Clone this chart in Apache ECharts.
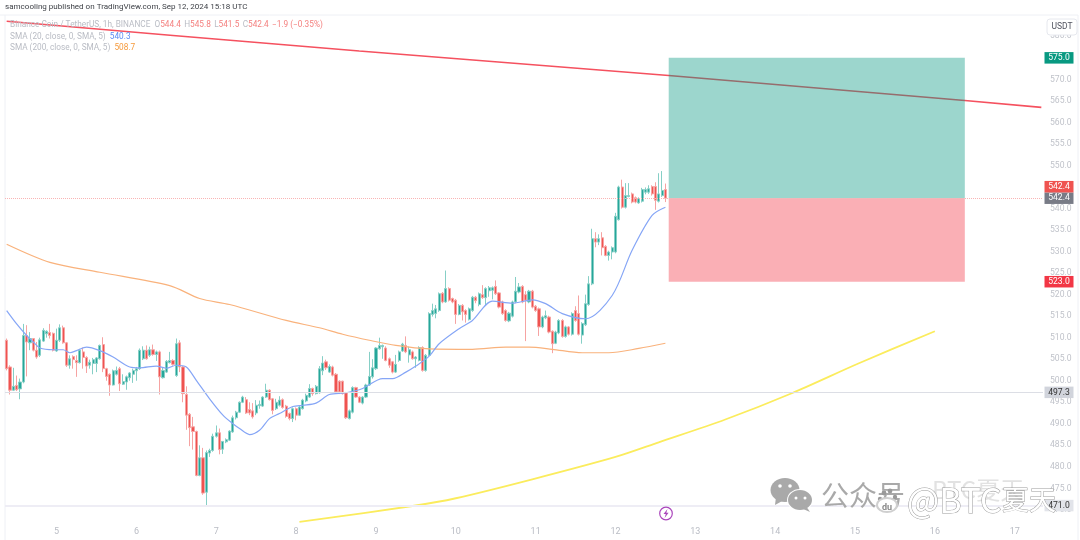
<!DOCTYPE html>
<html>
<head>
<meta charset="utf-8">
<title>BNBUSDT 1h</title>
<style>
  html, body { margin: 0; padding: 0; background: #fff; }
  #main { width: 1080px; height: 540px; }
</style>
<script src="https://cdn.jsdelivr.net/npm/echarts@6/dist/echarts.min.js"></script>
</head>
<body>
<div id="main"></div>
<script>
// hourly candles
var opens = [
  509.4,503.2,497.8,498.9,498.1,499.7,510.5,508.8,509.8,507.1,
  505.9,509.2,510.9,511.2,511,506.9,509.4,512.3,508.8,503.6,
  505.6,504.7,504.2,506.7,505.4,503.6,504,504,505.1,508.4,
  502.8,501.5,499,501.5,502.8,499.2,499.7,500.7,501.5,502.3,
  502.8,505.1,507.1,505.9,507.2,506.1,506.7,500.7,502,504.2,
  504.7,501.2,508.8,503.2,496.8,492.2,489.3,488.2,478,482.1,
  474.1,483.2,483.8,487.1,487.9,484.1,485.8,486.2,488.1,491.4,
  492.7,495,495.6,493.3,493,492.5,494.2,494.1,496.2,497.8,
  495.8,493.5,494.3,495.6,494.1,492.4,491.2,493.5,492,493.5,
  495.3,496.2,498.2,497,497.2,502.3,504.4,502,503.2,501.5,
  499.9,499.9,497.2,491.2,492.7,498.4,496.2,494.8,496.2,499,
  500.9,502.8,507.4,507.9,507.6,505.1,504.4,502,504.7,506.9,
  508.2,506,506.7,505.1,504.7,507.7,502.4,505.9,515.4,515.6,
  516.3,520.3,518.3,521.4,519.1,518.7,515.4,517.5,516.3,514.2,
  516.3,519.4,517.7,520,519.3,520.9,521,521.9,520.4,518.3,
  516.3,513.9,515,518.3,520.6,521.9,520,518.3,520.8,517.3,
  516.7,512.5,514.6,514.8,511.5,508.7,511.1,514,510.3,512.5,
  510.8,516.3,515.6,510.6,513,517.7,522.5,533,532.2,533.2,
  531.2,529.1,529.9,529.9,537.4,545,540.3,542.8,543.4,542.5,
  541.3,541.7,543.8,543.8,545.1,545.1,541.7,543,544.4
]
var closes = [
  502.8,497.8,498.7,497.9,499.7,510.5,509,509.8,507.1,505.5,
  509.5,511.7,511.5,510.5,507.1,509.4,512.3,508.8,503.6,505.1,
  504.9,504.2,507.1,505.4,503.4,504.3,504.9,505.3,508.2,502.8,
  501,499,502.3,502.4,499.3,499.8,500.9,501.8,502.4,502.8,
  507.1,507.1,505.1,507.2,506.1,506.7,500.9,502.4,504.5,504.7,
  503.8,508.6,503.2,497,492,489.1,488.2,478,482.1,473.9,
  483.3,483.8,487.1,487.9,484,485.9,486.3,488.3,491.4,492.7,
  495,496.2,492.5,492.5,491.6,494.3,494.5,496.2,497.8,495.6,
  493.1,495,495.5,493.8,491.7,491.2,493.5,492,493.9,495.5,
  496.6,498.2,497,498.7,502.8,504.1,503,503.3,501.3,497.4,
  497.4,497,491.4,493,498.4,496.2,495,496.2,499,501,
  503,507.6,508.2,508.2,504.7,503.6,502,503.8,506.7,508.5,
  506.7,507.2,505.1,505.5,507.7,502.4,505.9,515.6,516.3,516.7,
  520.2,518.3,521.4,518.7,518.3,515.4,517.5,516,515.4,516.7,
  519.4,518.6,520.2,519.3,521.4,521.6,521.6,520.2,517.1,515.6,
  514,515.7,518.3,520.8,521.8,518.3,518.7,520.8,517.1,516.3,
  512.5,514.8,515.1,511.3,508.6,511.3,514,510.3,512.5,510.8,
  515.6,514,510.8,513.3,517.9,522.5,533,532.2,533,530.9,
  529.1,529.9,530.9,538.2,545,540.3,543,543,541.5,541.5,
  542.3,544.4,544.4,544.6,543.4,541.9,543.4,544.2,542.4
]
var highs = [
  509.8,503.6,503,501.2,500.5,513.2,512.9,511.3,509.9,509,
  510,512.2,511.7,513.2,511.2,512.1,513.1,512.8,509,505.9,
  505.9,505.9,507.4,507.7,505.7,504.9,505.3,505.5,508.4,510.1,
  503,501.7,502.6,503.3,503.2,501.5,501.2,502,502.8,503.2,
  507.5,508,508.2,507.9,508.4,507,507,503,504.8,506.7,
  505,509.8,509.4,503.4,498.7,492.5,491.6,488.4,485,484.4,
  483.8,484.2,487.7,489.6,488.9,486,486.6,488.5,491.9,493,
  495.2,496.5,496.2,495,494.8,495.5,495.4,496.4,499.3,498,
  496,495.8,496.4,495.9,494.4,492.6,493.8,493.8,494.2,495.8,
  497,499.2,498.4,499,503.4,505.7,504.9,503.8,503.5,501.8,
  500.1,500,497.4,493.3,498.7,498.6,496.4,496.4,499.3,506.7,
  505,507.8,510,508.4,508,505.4,504.6,506,507,508.8,
  510.3,507.9,507,505.7,508,508,506.2,515.9,517.9,517.6,
  520.5,520.6,525.6,521.7,519.3,519,517.8,517.8,516.6,517,
  519.7,519.7,520.5,522.2,521.7,522,521.9,523.3,520.6,518.6,
  516.6,516,518.6,524.1,522.7,522.2,520.8,521.1,521.1,517.6,
  517,515.1,516.3,515.1,511.7,511.6,514.3,514.3,512.8,512.7,
  515.9,517.3,519.8,513.6,520,524.3,535.3,534.5,534,534.5,
  531.5,530.2,531.2,539,545.3,546.7,545.9,545.9,543.7,542.8,
  542.6,544.8,544.9,545.4,545.4,546.1,548.2,548.7,545.8
]
var lows = [
  502.4,496.8,497.6,497.6,495.7,499.4,501,507.1,506.8,505.1,
  505.5,509,510,509.8,506.8,506.7,509,508.6,503.2,502.8,
  502.8,500.9,504,502.8,501.8,502.8,501.5,502,504.9,502,
  500,496.5,498.9,501.2,497.6,499,497.9,500,499.5,500,
  502.5,504.8,504.9,505.5,505.8,504.6,496.8,500.5,501.8,504,
  503.5,500.9,502,495,488.6,484.8,484,477.8,477.8,473.5,
  471.1,482.3,483.5,486.8,482.9,483,485.5,486,487.9,491,
  492.5,494.8,492.3,492,491.2,492,493.5,493.9,496,495.4,
  492.2,493.2,494,493.5,491.4,490.8,490.4,490.8,491.8,493.3,
  495,496,496.5,496.8,497,501.3,502.5,501.8,501,497.2,
  496.9,496.8,491.1,491,492.4,496,494.8,494.5,496,498.8,
  500.5,502.5,507.2,505.1,504.5,503,501.7,501.8,504.4,506.7,
  506.4,504.2,504.9,503,504.5,502.1,502.1,505.7,514.9,514.5,
  516,518,518.1,518.4,518,513.2,515.2,514,513.5,514,
  516,518,517.3,519,517.5,519.5,518.9,519.9,516.8,515.3,
  513.7,513.6,514.7,518,520.3,518,509.2,518,516.8,516,
  510.4,512.2,514.3,511,506.4,508.5,510.8,510,510,510.5,
  510.5,513.7,510.5,508.6,512.7,517.4,522.2,531,531.5,529.1,
  528.9,527.9,528.2,529.6,537.2,540,540,542.6,541.2,541.2,
  541.1,541.4,543.3,543.4,543,539.7,541.4,542.7,541.5
]

// moving averages and trend lines: [candle slot, price]
var sma20 = [
  [0,516.3],[3,513.2],[6,510.5],[8,509],[10,507.6],[14,507.2],[17,507.2],[19,506.5],
  [21,507],[24,507.8],[28,507],[32,505.5],[37,503.2],[40,503],[45,503.4],[48,502.9],
  [51,503.6],[54,503.2],[57,500.1],[61,495.8],[65,492],[68,490],[70,488.9],[73,487.5],
  [76,488.5],[79,491.2],[82,492.4],[86,494],[89,494.3],[93,494.8],[97,496.8],[102,497.2],
  [107,498.2],[113,500.5],[116,500.5],[120,502],[123,503.4],[127,505.7],[130,508.6],
  [136,512.1],[140,514],[146,518.5],[152,518],[158,518.8],[162,517.9],[167,515.6],
  [174,514.4],[182,519.8],[188,530.3],[194,538.4],[198,540.3]
]
var sma200 = [
  [0,531.7],[13,527.5],[28,525.2],[49,522.1],[58,519.1],[67,517.7],[84,514],[94,512.3],
  [101,510.8],[109,509.4],[117,508.2],[127,507.4],[140,507.3],[150,507.8],[157,507.8],
  [164,507.3],[173,506.5],[181,506.5],[190,507.5],[198,508.7]
]
var redTrend = [[0,583.5],[50,580.2],[106,576.6],[199,570.9],[288,565.1],[311,563.5]]
var yellowTrend = [
  [88,467.2],[122,470.9],[135,472.7],[158,477.1],[183,482.3],[196,485.7],
  [216,491],[236,497.1],[256,504],[279,511.5]
]

// long position tool and price tags
var targetPrice = 575.0
var lastPrice = 542.4
var stopPrice = 523.0
var alertPrice = 497.3
var lowPrice = 471.0
var boxStart = 199
var boxEnd = 288

var slotCount = 312
var firstDaySlot = 15
var dayTicks = [5, 6, 7, 8, 9, 10, 11, 12, 13, 14, 15, 16, 17]

var categories = []
for (var i = 0; i < slotCount; i++) {
  var d = dayTicks.indexOf(5 + (i - firstDaySlot) / 24)
  categories.push(d >= 0 ? String(dayTicks[d]) : '')
}

var candles = opens.map(function (o, i) {
  return [o, closes[i], lows[i], highs[i]]
})

var FONT = 'Roboto, sans-serif'
var CJK = '"Noto Sans CJK SC", sans-serif'

function tag(value, bg, color, dy) {
  return {
    yAxis: value,
    label: {
      show: true,
      position: 'end',
      distance: 1,
      formatter: value.toFixed(1),
      backgroundColor: bg,
      color: color,
      fontFamily: FONT,
      fontSize: 8.6,
      width: 29,
      height: 11.5,
      lineHeight: 11.5,
      align: 'center',
      offset: [15, dy || 0]
    }
  }
}

function line(item, style) {
  item.lineStyle = style
  return item
}

var hidden = { color: 'rgba(0,0,0,0)', width: 0 }

var legendStyle = {
  g: { fill: '#b9bcc4', fontFamily: FONT, fontSize: 8.25 },
  r: { fill: '#f4807f', fontFamily: FONT, fontSize: 8.25 },
  b: { fill: '#5b8cf5', fontFamily: FONT, fontSize: 8.25 },
  o: { fill: '#f59a3c', fontFamily: FONT, fontSize: 8.25 }
}

function text(x, y, str, size, color, family, extra) {
  var style = { x: x, y: y, text: str, fontSize: size, fill: color, fontFamily: family, textVerticalAlign: 'middle' }
  for (var k in extra) style[k] = extra[k]
  return { type: 'text', z: 50, silent: true, style: style }
}

function circle(cx, cy, r, fill, stroke) {
  return {
    type: 'circle', z: 50, silent: true,
    shape: { cx: cx, cy: cy, r: r },
    style: { fill: fill, stroke: stroke || null, lineWidth: stroke ? 1.2 : 0 }
  }
}

function ellipse(cx, cy, rx, ry, fill, stroke) {
  return {
    type: 'ellipse', z: 50, silent: true,
    shape: { cx: cx, cy: cy, rx: rx, ry: ry },
    style: { fill: fill, stroke: stroke || null, lineWidth: stroke ? 2 : 0 }
  }
}

function poly(points, fill) {
  return { type: 'polygon', z: 50, silent: true, shape: { points: points }, style: { fill: fill } }
}

function rule(x1, y1, x2, y2) {
  return {
    type: 'line', z: 0, silent: true,
    shape: { x1: x1, y1: y1, x2: x2, y2: y2 },
    style: { stroke: '#eef0f5', lineWidth: 1 }
  }
}

var GREY = '#a9a9a9'
var HOLLOW = { stroke: '#9c9c9c', lineWidth: 1 }

var chart = echarts.init(document.getElementById('main'), null, { renderer: 'canvas' })

var option = {
  animation: false,
  backgroundColor: '#fff',
  grid: { left: 5, right: 37, top: 14.8, height: 516.6, containLabel: false },
  xAxis: {
    type: 'category',
    data: categories,
    boundaryGap: true,
    axisLine: { show: false },
    axisTick: { show: false },
    splitLine: { show: false },
    axisLabel: {
      interval: 0,
      margin: 0,
      verticalAlign: 'middle',
      color: '#b9bcc4',
      fontFamily: FONT,
      fontSize: 9
    }
  },
  yAxis: {
    type: 'value',
    position: 'right',
    min: 465,
    max: 585,
    interval: 5,
    axisLine: { show: false },
    axisTick: { show: false },
    splitLine: { show: false },
    axisLabel: {
      margin: 7,
      color: '#c0c3ca',
      fontFamily: FONT,
      fontSize: 8.6,
      formatter: function (v) {
        return v === 465 || v === 585 ? '' : v.toFixed(1)
      }
    }
  },
  series: [
    {
      type: 'candlestick',
      data: candles,
      barWidth: 2.6,
      z: 3,
      itemStyle: {
        color: '#26a69a',
        color0: '#ef5350',
        borderColor: '#86cfc6',
        borderColor0: '#f6a3a2',
        borderWidth: 1
      },
      markArea: {
        silent: true,
        z: 6,
        data: [
          [
            { coord: [boxStart, targetPrice], itemStyle: { color: 'rgba(8,153,129,0.4)' } },
            { coord: [boxEnd, lastPrice] }
          ],
          [
            { coord: [boxStart, lastPrice], itemStyle: { color: 'rgba(242,54,69,0.4)' } },
            { coord: [boxEnd, stopPrice] }
          ]
        ]
      },
      markLine: {
        silent: true,
        symbol: 'none',
        z: 7,
        data: [
          line(tag(targetPrice, '#089981', '#fff'), hidden),
          line(tag(stopPrice, '#f23645', '#fff'), hidden),
          line(tag(lastPrice, '#787b86', '#fff'), { color: '#f9b4b4', type: 'dotted', width: 1 }),
          line(tag(lastPrice, '#ef5350', '#fff', -11.5), hidden),
          line(tag(alertPrice, '#d1d4dc', '#333'), { color: '#dcdee5', type: 'solid', width: 1 }),
          line(tag(lowPrice, '#e2e4ea', '#333'), { color: '#eeedf5', type: 'solid', width: 2 })
        ]
      }
    },
    {
      type: 'line', data: redTrend, showSymbol: false, z: 2,
      lineStyle: { color: '#f5515f', width: 1.6 }
    },
    {
      type: 'line', data: yellowTrend, showSymbol: false, z: 2, smooth: 0.3,
      lineStyle: { color: '#fbec5d', width: 1.8 }
    },
    {
      type: 'line', data: sma200, showSymbol: false, z: 4, smooth: 0.3,
      lineStyle: { color: '#f9b27c', width: 1.2 }
    },
    {
      type: 'line', data: sma20, showSymbol: false, z: 5, smooth: 0.3,
      lineStyle: { color: '#86a6f6', width: 1.2 }
    }
  ],
  graphic: [
    // pane borders
    rule(0, 15, 1078, 15),
    rule(5, 15, 5, 540),
    rule(1078, 15, 1078, 540),

    // header and legend
    text(5, 7, 'samcooling published on TradingView.com, Sep 12, 2024 15:18 UTC', 8.05, '#3f4248', FONT),
    {
      type: 'text', z: 50, silent: true,
      style: {
        x: 10, y: 25, textVerticalAlign: 'middle',
        text: '{g|Binance Coin / TetherUS, 1h, BINANCE  O}{r|544.4} {g|H}{r|545.8} {g|L}{r|541.5} {g|C}{r|542.4} {r|\u22121.9 (\u22120.35%)}',
        rich: legendStyle
      }
    },
    {
      type: 'text', z: 50, silent: true,
      style: {
        x: 10, y: 36.6, textVerticalAlign: 'middle',
        text: '{g|SMA (20, close, 0, SMA, 5)  }{b|540.3}',
        rich: legendStyle
      }
    },
    {
      type: 'text', z: 50, silent: true,
      style: {
        x: 10, y: 48, textVerticalAlign: 'middle',
        text: '{g|SMA (200, close, 0, SMA, 5)  }{o|508.7}',
        rich: legendStyle
      }
    },

    // currency button
    {
      type: 'rect', z: 50, silent: true,
      shape: { x: 1047, y: 19, width: 30, height: 16, r: 3 },
      style: { fill: '#fff', stroke: '#e6e8ee', lineWidth: 1 }
    },
    text(1062, 27.3, 'USDT', 8.5, '#50535e', FONT, { textAlign: 'center' }),

    // lightning marker under the last candle
    circle(666, 513.5, 6.3, '#fff', '#ab47bc'),
    poly([[667.5, 509], [663.5, 514], [665.8, 514], [664.6, 518], [668.6, 512.8], [666.3, 512.8]], '#ab47bc'),

    // watermark
    text(932, 490, 'BTC夏天', 24, '#e2e2e2', CJK),
    ellipse(785, 490, 14.5, 12, GREY),
    poly([[776, 497], [775, 505], [784, 500]], GREY),
    ellipse(800, 500, 13, 11, '#fff'),
    ellipse(800, 500, 12, 10, GREY),
    poly([[806, 506], [810, 512], [801, 508]], GREY),
    circle(780, 486, 1.8, '#fff'),
    circle(790, 486, 1.8, '#fff'),
    circle(796, 498, 1.5, '#fff'),
    circle(805, 498, 1.5, '#fff'),
    text(821, 495, '公众号', 28, GREY, CJK),
    circle(884, 493, 2.4, '#9a9a9a'),
    circle(890, 491, 2.4, '#9a9a9a'),
    circle(880, 499, 2.2, '#9a9a9a'),
    circle(895, 497, 2.2, '#9a9a9a'),
    ellipse(887, 505, 10, 7, '#fff', '#cfcfcf'),
    text(887, 508, 'du', 9, '#8a8a8a', FONT, { textAlign: 'center', fontWeight: 'bold' }),
    text(907, 500, '@BTC', 34, '#fff', CJK, HOLLOW),
    text(1002, 500, '夏天', 27, '#fff', CJK, HOLLOW)
  ]
}

chart.setOption(option)
</script>
</body>
</html>
